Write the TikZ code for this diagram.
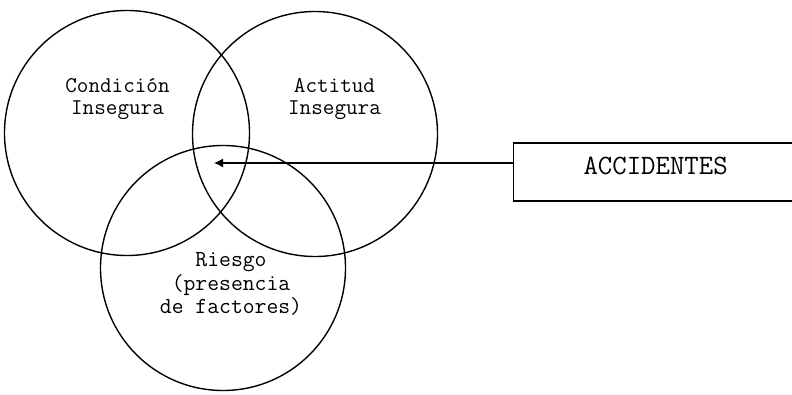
\documentclass[tikz,border=0pt]{standalone}
\usepackage{fontspec}
\usepackage{tikz}
\usetikzlibrary{arrows.meta, positioning, calc}

\tikzset{
    ring/.style={draw, circle, line width=1.4pt, minimum size=245pt, inner sep=0pt},
    ringlabel/.style={align=center, font=\ttfamily\fontsize{22.5}{22.5}\selectfont},
    accbox/.style={draw, rectangle, line width=1.3pt, minimum width=284pt,
                   minimum height=58pt, text depth=12pt,
                   font=\ttfamily\fontsize{28}{30}\selectfont}
}

\begin{document}
\begin{tikzpicture}[x=1pt, y=-1pt]
    \useasboundingbox (0,0) rectangle (792,394);
    \clip (0,0) rectangle (792,394);

    % The three overlapping circles
    \node[ring] (cond) at (127,133) {};
    \node[ring] (act) at (315,134) {};
    \node[ring] (riesgo) at (223,268) {};

    % Circle texts
    \node[ringlabel] at (117.5,99) {Condición\\Insegura};
    \node[ringlabel] at (334.5,99) {Actitud\\Insegura};
    \node[ringlabel, font=\ttfamily\fontsize{23}{23.5}\selectfont] at (231,284)
        {Riesgo\\(presencia\\de factores)};

    % Accidents box and its arrow into the common area
    \node[accbox, anchor=west] (acc) at (513,172) {ACCIDENTES};
    \coordinate (core) at (214,163);
    \draw[line width=1.3pt, -{Latex[length=9pt, width=9pt]}] (acc.west |- core) -- (core);
\end{tikzpicture}
\end{document}
